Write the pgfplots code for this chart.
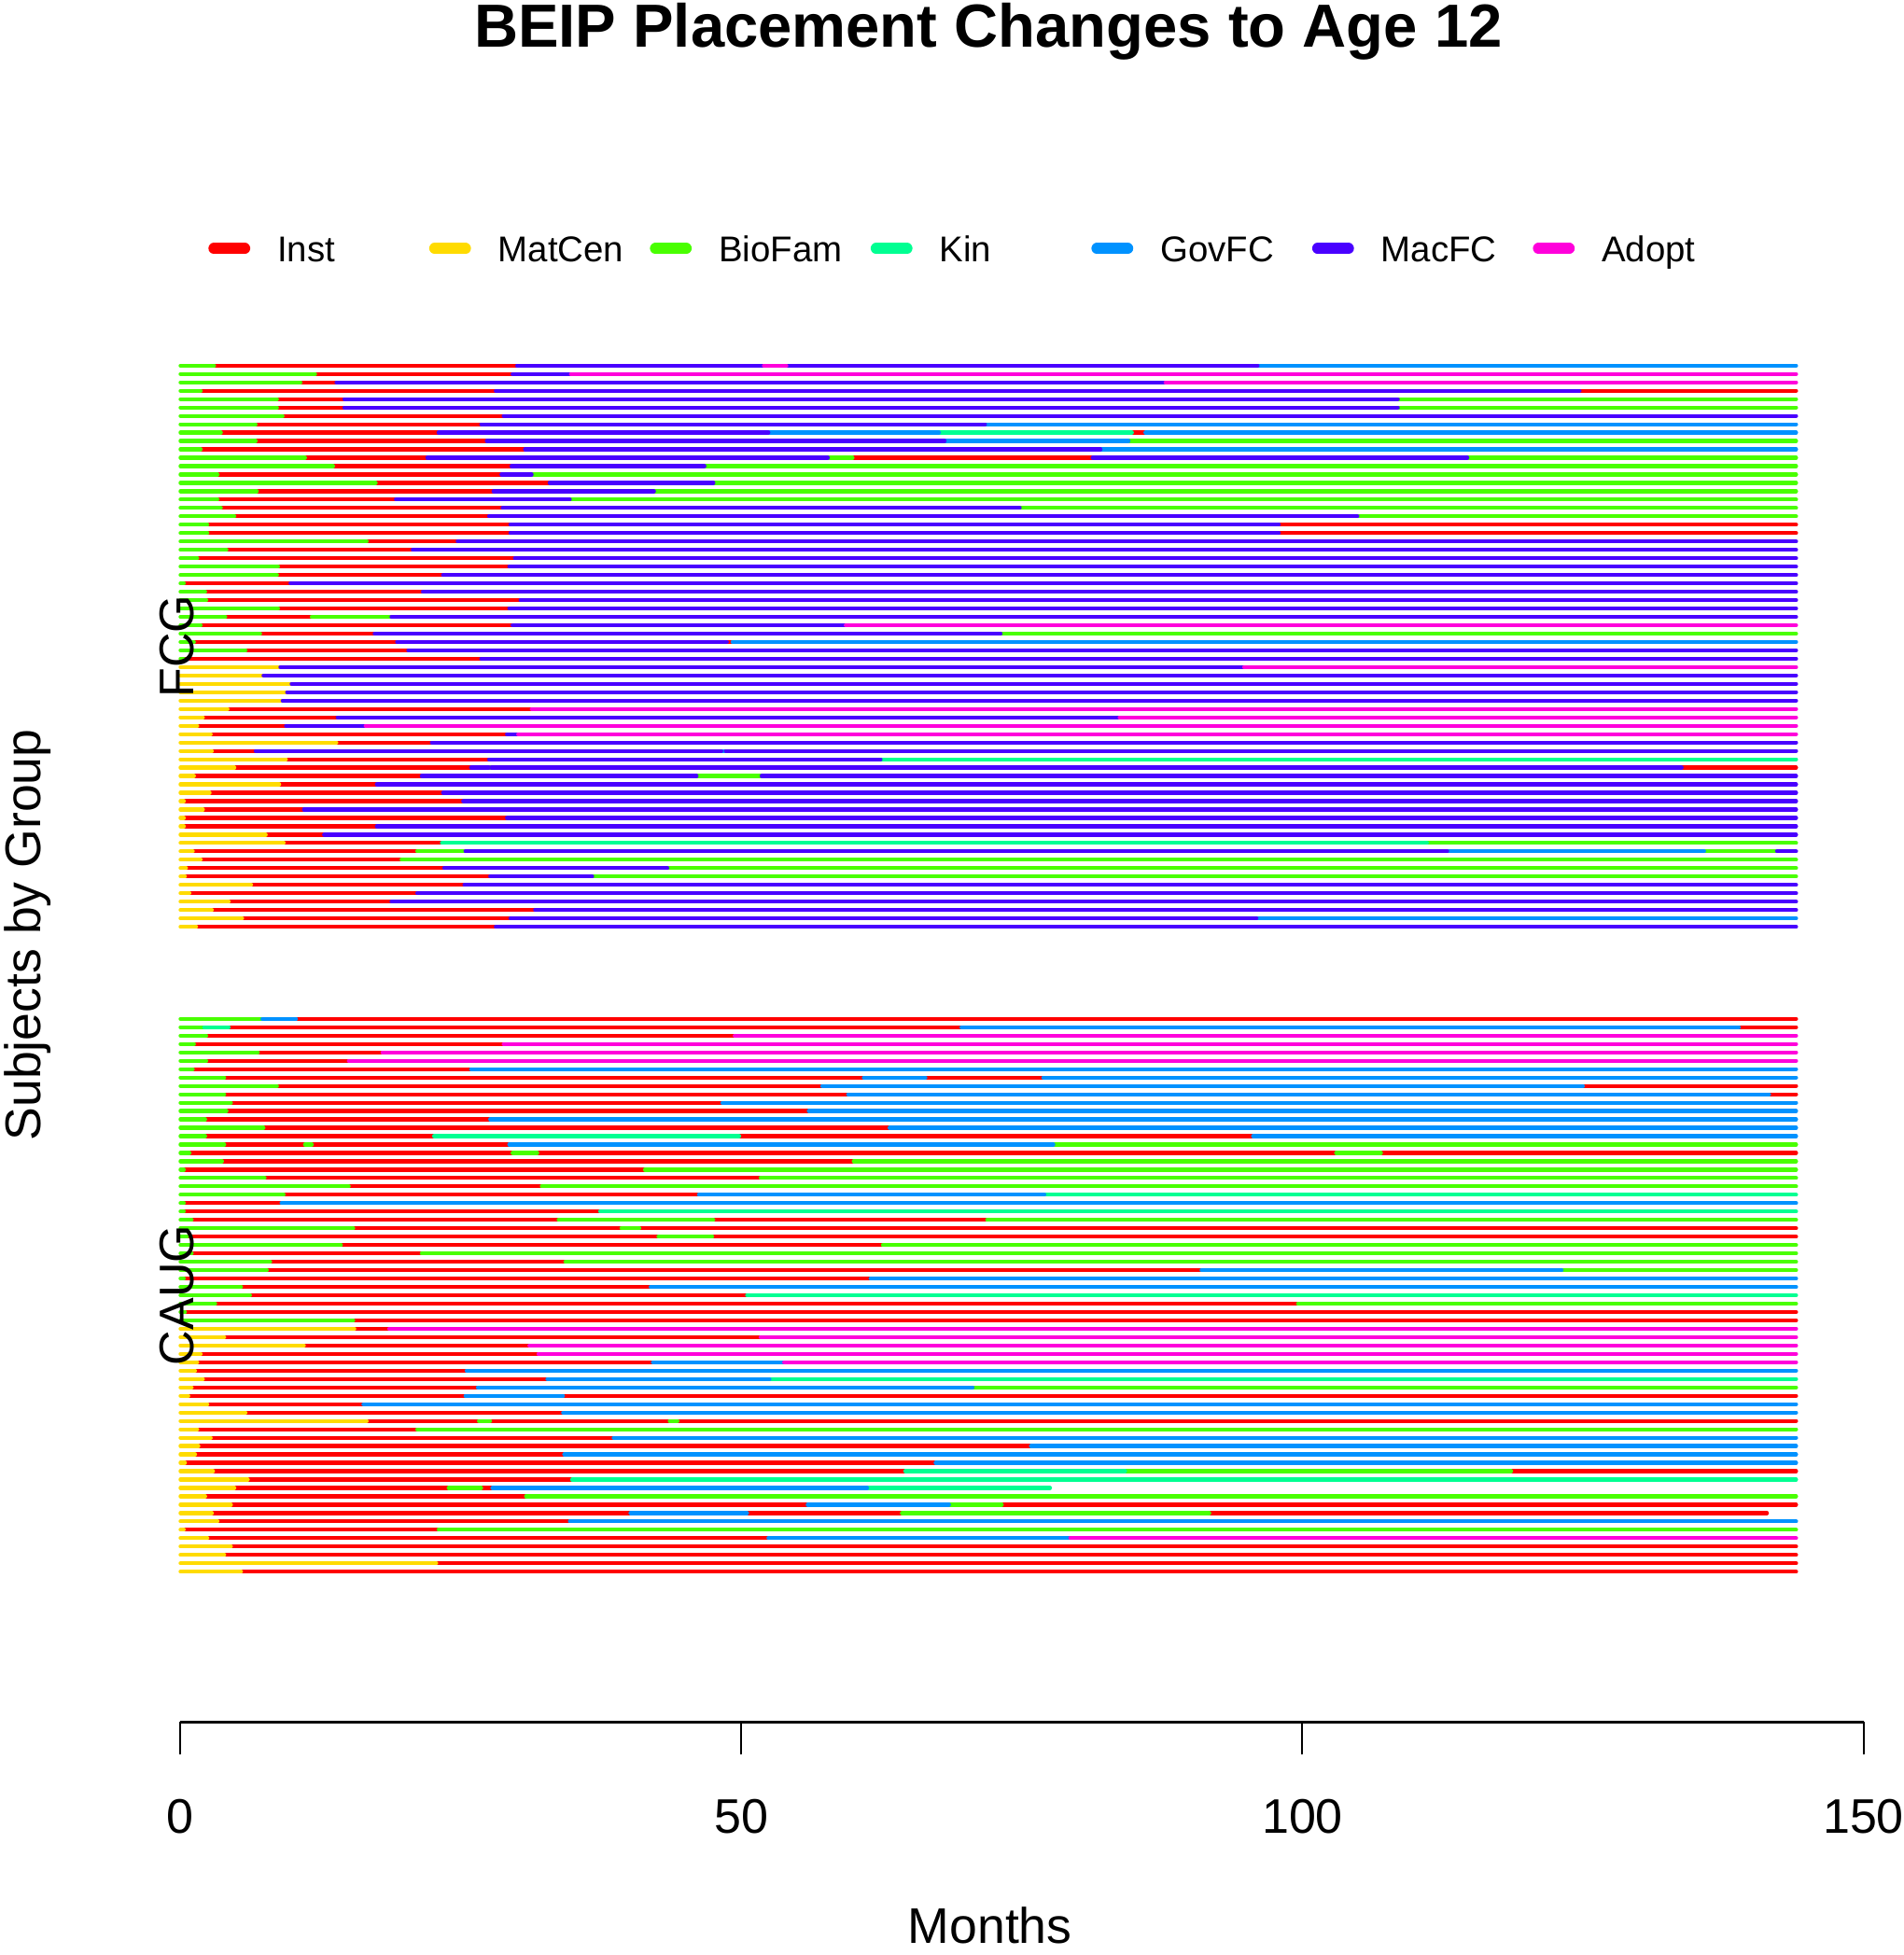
\documentclass[border=0pt]{standalone}
\usepackage{fontspec}
\setmainfont{Liberation Sans}
\usepackage{pgfplots}
\usepackage{pgfplotstable}
\pgfplotsset{compat=1.18}

% rainbow(7): Inst, MatCen, BioFam, Kin, GovFC, MacFC, Adopt
\definecolor{c1}{HTML}{FF0000}
\definecolor{c2}{HTML}{FFDB00}
\definecolor{c3}{HTML}{49FF00}
\definecolor{c4}{HTML}{00FF92}
\definecolor{c5}{HTML}{0092FF}
\definecolor{c6}{HTML}{4900FF}
\definecolor{c7}{HTML}{FF00DB}

% placement spells: row y, start month, end month, placement type
\pgfplotstableread[row sep=\\]{
y x0 x1 c\\
145 0 3 3\\ 145 3 30 1\\ 145 30 52 6\\ 145 52 54 7\\ 145 54 96 6\\ 145 96 144 5\\
144 0 12 3\\ 144 12 29.6 1\\ 144 29.6 34.8 6\\ 144 34.8 144 7\\
143 0 10.7 3\\ 143 10.7 13.9 1\\ 143 13.9 87.8 6\\ 143 87.8 144 7\\
142 0 1.8 3\\ 142 1.8 28.1 1\\ 142 28.1 124.7 6\\ 142 124.7 144 1\\
141 0 8.6 3\\ 141 8.6 14.6 1\\ 141 14.6 108.5 6\\ 141 108.5 144 3\\
140 0 8.6 3\\ 140 8.6 14.6 1\\ 140 14.6 108.5 6\\ 140 108.5 144 3\\
139 0 9.1 3\\ 139 9.1 28.8 1\\ 139 28.8 144 6\\
138 0 6.7 3\\ 138 6.7 26.8 1\\ 138 26.8 71.7 6\\ 138 71.7 144 5\\
137 0 3.6 3\\ 137 3.6 23 1\\ 137 23 52.4 6\\ 137 52.4 67.6 5\\ 137 67.6 84.8 4\\ 137 84.8 86 1\\ 137 86 144 5\\
136 0 6.7 3\\ 136 6.7 27.3 1\\ 136 27.3 68.1 6\\ 136 68.1 84.5 5\\ 136 84.5 144 3\\
135 0 1.8 3\\ 135 1.8 30.7 1\\ 135 30.7 82 6\\ 135 82 144 5\\
134 0 11.1 3\\ 134 11.1 22 1\\ 134 22 57.7 6\\ 134 57.7 59.9 3\\ 134 59.9 81.3 1\\ 134 81.3 114.7 6\\ 134 114.7 144 3\\
133 0 13.6 3\\ 133 13.6 29.5 1\\ 133 29.5 46.7 6\\ 133 46.7 144 3\\
132 0 3.3 3\\ 132 3.3 28.6 1\\ 132 28.6 31.3 6\\ 132 31.3 144 3\\
131 0 17.4 3\\ 131 17.4 32.9 1\\ 131 32.9 47.5 6\\ 131 47.5 144 3\\
130 0 6.8 3\\ 130 6.8 27.9 1\\ 130 27.9 42.2 6\\ 130 42.2 144 3\\
129 0 3.3 3\\ 129 3.3 19.2 1\\ 129 19.2 34.7 6\\ 129 34.7 144 3\\
128 0 3.6 3\\ 128 3.6 28.7 1\\ 128 28.7 74.8 6\\ 128 74.8 144 3\\
127 0 4.8 3\\ 127 4.8 27.5 1\\ 127 27.5 104.9 6\\ 127 104.9 144 3\\
126 0 2.4 3\\ 126 2.4 29.4 1\\ 126 29.4 97.9 6\\ 126 97.9 144 1\\
125 0 2.4 3\\ 125 2.4 29.4 1\\ 125 29.4 97.9 6\\ 125 97.9 144 1\\
124 0 16.6 3\\ 124 16.6 24.7 1\\ 124 24.7 144 6\\
123 0 4.1 3\\ 123 4.1 20.7 1\\ 123 20.7 144 6\\
122 0 1.5 3\\ 122 1.5 29.8 1\\ 122 29.8 144 6\\
121 0 8.7 3\\ 121 8.7 29.3 1\\ 121 29.3 144 6\\
120 0 8.6 3\\ 120 8.6 23.4 1\\ 120 23.4 144 6\\
119 0 0.3 3\\ 119 0.3 9.8 1\\ 119 9.8 144 6\\
118 0 2.2 3\\ 118 2.2 21.6 1\\ 118 21.6 144 6\\
117 0 2.3 3\\ 117 2.3 30.3 1\\ 117 30.3 144 6\\
116 0 8.7 3\\ 116 8.7 29.3 1\\ 116 29.3 144 6\\
115 0 4 3\\ 115 4 11.7 1\\ 115 11.7 18.8 3\\ 115 18.8 144 6\\
114 0 1.8 3\\ 114 1.8 29.6 1\\ 114 29.6 59.3 6\\ 114 59.3 144 7\\
113 0 7.1 3\\ 113 7.1 17.3 1\\ 113 17.3 73.1 6\\ 113 73.1 144 3\\
112 0 1.2 3\\ 112 1.2 19.3 1\\ 112 19.3 48.7 6\\ 112 48.7 49.2 1\\ 112 49.2 144 5\\
111 0 5.8 3\\ 111 5.8 20.3 1\\ 111 20.3 144 6\\
110 0 0.3 3\\ 110 0.3 26.8 1\\ 110 26.8 144 6\\
109 0 8.9 2\\ 109 8.9 94.8 6\\ 109 94.8 144 7\\
108 0 7.4 2\\ 108 7.4 144 6\\
107 0 9.9 2\\ 107 9.9 144 6\\
106 0 9.5 2\\ 106 9.5 144 6\\
105 0 9.1 2\\ 105 9.1 144 6\\
104 0 4.2 2\\ 104 4.2 31.3 1\\ 104 31.3 144 7\\
103 0 2 2\\ 103 2 14 1\\ 103 14 83.7 6\\ 103 83.7 144 7\\
102 0 1.5 2\\ 102 1.5 9.4 1\\ 102 9.4 16.5 6\\ 102 16.5 144 7\\
101 0 2.7 2\\ 101 2.7 29.1 1\\ 101 29.1 30.1 6\\ 101 30.1 144 7\\
100 0 13.9 2\\ 100 13.9 22.4 1\\ 100 22.4 144 6\\
99 0 2.8 2\\ 99 2.8 6.7 1\\ 99 6.7 48.2 6\\ 99 48.2 48.6 5\\ 99 48.6 144 6\\
98 0 9.4 2\\ 98 9.4 27.5 1\\ 98 27.5 62.4 6\\ 98 62.4 144 4\\
97 0 4.8 2\\ 97 4.8 25.9 1\\ 97 25.9 27.5 6\\ 97 27.5 27.7 3\\ 97 27.7 133.8 6\\ 97 133.8 144 1\\
96 0 1.2 2\\ 96 1.2 21.5 1\\ 96 21.5 46 6\\ 96 46 51.8 3\\ 96 51.8 144 6\\
95 0 8.8 2\\ 95 8.8 17.5 1\\ 95 17.5 144 6\\
94 0 2.6 2\\ 94 2.6 23.4 1\\ 94 23.4 144 6\\
93 0 0.3 2\\ 93 0.3 25.2 1\\ 93 25.2 144 6\\
92 0 2 2\\ 92 2 11 1\\ 92 11 144 6\\
91 0 0.3 2\\ 91 0.3 29.1 1\\ 91 29.1 144 6\\
90 0 0.3 2\\ 90 0.3 17.5 1\\ 90 17.5 144 6\\
89 0 7.6 2\\ 89 7.6 12.8 1\\ 89 12.8 144 6\\
88 0 9.2 2\\ 88 9.2 23.3 1\\ 88 23.3 111.1 4\\ 88 111.1 144 3\\
87 0 1.1 2\\ 87 1.1 21.1 1\\ 87 21.1 25.4 3\\ 87 25.4 112.9 6\\ 87 112.9 135.8 5\\ 87 135.8 142.3 3\\ 87 142.3 144 6\\
86 0 1.8 2\\ 86 1.8 19.7 1\\ 86 19.7 144 3\\
85 0 0.5 2\\ 85 0.5 23.5 1\\ 85 23.5 43.4 6\\ 85 43.4 144 3\\
84 0 0.4 2\\ 84 0.4 27.6 1\\ 84 27.6 36.7 6\\ 84 36.7 144 3\\
83 0 6.3 2\\ 83 6.3 25.3 1\\ 83 25.3 144 6\\
82 0 0.8 2\\ 82 0.8 21.1 1\\ 82 21.1 144 6\\
81 0 4.3 2\\ 81 4.3 18.8 1\\ 81 18.8 144 6\\
80 0 2.8 2\\ 80 2.8 31.6 1\\ 80 31.6 144 6\\
79 0 5.5 2\\ 79 5.5 29.4 1\\ 79 29.4 95.9 6\\ 79 95.9 144 5\\
78 0 1.4 2\\ 78 1.4 28.1 1\\ 78 28.1 144 6\\
}\fcg

\pgfplotstableread[row sep=\\]{
y x0 x1 c\\
67 0 7.3 3\\ 67 7.3 10.3 5\\ 67 10.3 144 1\\
66 0 2.1 3\\ 66 2.1 4.3 4\\ 66 4.3 69.6 1\\ 66 69.6 138.9 5\\ 66 138.9 144 1\\
65 0 2.3 3\\ 65 2.3 49.4 1\\ 65 49.4 144 7\\
64 0 1.2 3\\ 64 1.2 28.8 1\\ 64 28.8 144 7\\
63 0 6.9 3\\ 63 6.9 18 1\\ 63 18 144 7\\
62 0 2.3 3\\ 62 2.3 15 1\\ 62 15 144 7\\
61 0 1.1 3\\ 61 1.1 25.9 1\\ 61 25.9 144 5\\
60 0 3.9 3\\ 60 3.9 60.9 1\\ 60 60.9 66.4 5\\ 60 66.4 76.9 1\\ 60 76.9 144 5\\
59 0 8.6 3\\ 59 8.6 57.2 1\\ 59 57.2 125 5\\ 59 125 144 1\\
58 0 3.9 3\\ 58 3.9 59.5 1\\ 58 59.5 141.6 5\\ 58 141.6 144 1\\
57 0 4.5 3\\ 57 4.5 48.3 1\\ 57 48.3 144 5\\
56 0 4.1 3\\ 56 4.1 56 1\\ 56 56 144 5\\
55 0 2.2 3\\ 55 2.2 27.6 1\\ 55 27.6 144 5\\
54 0 7.4 3\\ 54 7.4 63.2 1\\ 54 63.2 144 5\\
53 0 2.2 3\\ 53 2.2 22.6 1\\ 53 22.6 49.8 4\\ 53 49.8 95.6 1\\ 53 95.6 144 5\\
52 0 3.9 3\\ 52 3.9 11.1 1\\ 52 11.1 11.7 3\\ 52 11.7 29.3 1\\ 52 29.3 77.8 5\\ 52 77.8 144 3\\
51 0 0.8 3\\ 51 0.8 29.6 1\\ 51 29.6 31.8 3\\ 51 31.8 103 1\\ 51 103 107 3\\ 51 107 144 1\\
50 0 3.7 3\\ 50 3.7 60 1\\ 50 60 144 3\\
49 0 0.3 3\\ 49 0.3 41.4 1\\ 49 41.4 144 3\\
48 0 7.5 3\\ 48 7.5 51.7 1\\ 48 51.7 144 3\\
47 0 15 3\\ 47 15 32.2 1\\ 47 32.2 144 3\\
46 0 9.2 3\\ 46 9.2 46.2 1\\ 46 46.2 77 5\\ 46 77 144 4\\
45 0 0.3 3\\ 45 0.3 9 1\\ 45 9 144 5\\
44 0 0.3 3\\ 44 0.3 37.4 1\\ 44 37.4 144 4\\
43 0 1 3\\ 43 1 33.7 1\\ 43 33.7 47.5 3\\ 43 47.5 71.9 1\\ 43 71.9 144 3\\
42 0 15.4 3\\ 42 15.4 39.3 1\\ 42 39.3 40.9 3\\ 42 40.9 144 1\\
41 0 0.6 3\\ 41 0.6 42.6 1\\ 41 42.6 47.4 3\\ 41 47.4 144 1\\
40 0 14.3 3\\ 40 14.3 62.6 1\\ 40 62.6 144 3\\
39 0 1 3\\ 39 1 21.5 1\\ 39 21.5 144 3\\
38 0 8 3\\ 38 8 34.3 1\\ 38 34.3 144 3\\
37 0 7.7 3\\ 37 7.7 91 1\\ 37 91 123.1 5\\ 37 123.1 144 3\\
36 0 0.3 3\\ 36 0.3 61.5 1\\ 36 61.5 144 5\\
35 0 5.4 3\\ 35 5.4 41.9 1\\ 35 41.9 144 5\\
34 0 6.2 3\\ 34 6.2 50.5 1\\ 34 50.5 144 4\\
33 0 3.1 3\\ 33 3.1 99.6 1\\ 33 99.6 144 3\\
32 0 0.4 3\\ 32 0.4 144 1\\
31 0 15.4 3\\ 31 15.4 144 1\\
30 0 15.5 2\\ 30 15.5 18.6 1\\ 30 18.6 144 7\\
29 0 3.9 2\\ 29 3.9 51.7 1\\ 29 51.7 144 7\\
28 0 11 2\\ 28 11 31.1 1\\ 28 31.1 144 7\\
27 0 1.8 2\\ 27 1.8 31.9 1\\ 27 31.9 144 7\\
26 0 1.5 2\\ 26 1.5 42.1 1\\ 26 42.1 53.8 5\\ 26 53.8 144 7\\
25 0 1.3 2\\ 25 1.3 25.5 1\\ 25 25.5 144 5\\
24 0 2 2\\ 24 2 32.7 1\\ 24 32.7 52.5 5\\ 24 52.5 144 4\\
23 0 1 2\\ 23 1 26.5 1\\ 23 26.5 70.6 5\\ 23 70.6 144 3\\
22 0 0.7 2\\ 22 0.7 25.4 1\\ 22 25.4 34.1 5\\ 22 34.1 144 1\\
21 0 2.4 2\\ 21 2.4 16.3 1\\ 21 16.3 144 5\\
20 0 5.8 2\\ 20 5.8 34.1 1\\ 20 34.1 144 5\\
19 0 16.6 2\\ 19 16.6 26.6 1\\ 19 26.6 27.6 3\\ 19 27.6 43.6 1\\ 19 43.6 44.3 3\\ 19 44.3 144 1\\
18 0 1.5 2\\ 18 1.5 21.1 1\\ 18 21.1 144 3\\
17 0 2.7 2\\ 17 2.7 38.6 1\\ 17 38.6 144 5\\
16 0 1.6 2\\ 16 1.6 75.8 1\\ 16 75.8 144 5\\
15 0 1.3 2\\ 15 1.3 34.2 1\\ 15 34.2 144 5\\
14 0 0.4 2\\ 14 0.4 67.3 1\\ 14 67.3 144 5\\
13 0 2.9 2\\ 13 2.9 64.6 1\\ 13 64.6 84.2 4\\ 13 84.2 118.6 3\\ 13 118.6 144 1\\
12 0 6 2\\ 12 6 34.9 1\\ 12 34.9 144 4\\
11 0 4.8 2\\ 11 4.8 23.9 1\\ 11 23.9 26.8 3\\ 11 26.8 27.8 1\\ 11 27.8 61.2 5\\ 11 61.2 77.5 4\\
10 0 2.2 2\\ 10 2.2 30.8 1\\ 10 30.8 144 3\\
9 0 4.5 2\\ 9 4.5 55.9 1\\ 9 55.9 68.5 5\\ 9 68.5 73.2 3\\ 9 73.2 144 1\\
8 0 2.8 2\\ 8 2.8 40.1 1\\ 8 40.1 50.5 5\\ 8 50.5 64.3 1\\ 8 64.3 91.7 3\\ 8 91.7 141.4 1\\
7 0 3.3 2\\ 7 3.3 34.7 1\\ 7 34.7 144 5\\
6 0 0.3 2\\ 6 0.3 23 1\\ 6 23 144 3\\
5 0 2.4 2\\ 5 2.4 52.4 1\\ 5 52.4 79.3 5\\ 5 79.3 144 7\\
4 0 4.5 2\\ 4 4.5 144 1\\
3 0 3.9 2\\ 3 3.9 144 1\\
2 0 22.8 2\\ 2 22.8 144 1\\
1 0 5.4 2\\ 1 5.4 144 1\\
}\caug

\newcommand\lgtext[1]{\makebox[40.66pt][l]{#1}}

\begin{document}
\begin{tikzpicture}
\begin{axis}[
  x=3.0055pt, y=2.244pt,
  xmin=0, xmax=150, ymin=-16.96, ymax=146,
  clip=false,
  axis x line*=bottom, axis y line*=left,
  x axis line style={-, line width=0.7pt},
  y axis line style={draw=none},
  ytick=\empty,
  xtick={0,50,100,150},
  tick align=outside, major tick length=8.75pt,
  xtick style={line width=0.5pt, black},
  /pgf/number format/assume math mode=true,
  xticklabel style={font=\fontsize{13}{13}\selectfont, anchor=base, yshift=-21pt},
  title={BEIP Placement Changes to Age 12},
  title style={font=\fontsize{16.3}{18}\selectfont\bfseries,
    at={(axis description cs:0.48,1.2106)}, anchor=base},
  xlabel={Months},
  xlabel style={font=\fontsize{13.4}{14}\selectfont,
    at={(axis description cs:0.481,0)}, anchor=base, yshift=-59.2pt},
  ylabel={Subjects by Group},
  ylabel style={font=\fontsize{13.4}{14}\selectfont,
    at={(axis description cs:-0.083,0.5767)}, anchor=base},
  legend columns=7,
  legend entries={\lgtext{Inst},\lgtext{MatCen},\lgtext{BioFam},\lgtext{Kin},
                  \lgtext{GovFC},\lgtext{MacFC},\lgtext{Adopt}},
  legend style={draw=none, fill=none, inner sep=0pt, outer sep=0pt,
    column sep=0pt, font=\fontsize{9.6}{10}\selectfont,
    at={(axis description cs:0.0166,1.0768)}, anchor=west,
    cells={anchor=base west},
    nodes={inner sep=0pt, text height=0.75em, text depth=0.25em}},
  seg/.style={line width=1.05pt, line cap=round,
    quiver={u=\thisrow{x1}-\thisrow{x0}, v=0},
    legend image code/.code={
      \draw[line width=2.9pt] (0pt,3.55pt) -- (8.3pt,3.55pt);
      \path (0pt,0pt) (16.5pt,0pt);}},
]
\pgfplotsinvokeforeach{1,2,3,4,5,6,7}{
  \addplot[seg, draw=c#1, restrict expr to domain={\thisrow{c}}{#1:#1}]
    table[x=x0, y=y] {\fcg};
}
\pgfplotsinvokeforeach{1,2,3,4,5,6,7}{
  \addplot[seg, draw=c#1, forget plot, restrict expr to domain={\thisrow{c}}{#1:#1}]
    table[x=x0, y=y] {\caug};
}
\end{axis}
% group names over the left end of the rows
\node[rotate=90, anchor=base, font=\fontsize{13}{13}\selectfont] at (3.65pt,288.25pt) {FCG};
\node[rotate=90, anchor=base, font=\fontsize{13}{13}\selectfont] at (3.65pt,114.35pt) {CAUG};
\pgfresetboundingbox
\path[use as bounding box] (-48.35pt,-62.4pt) rectangle (461.65pt,461.4pt);
\end{tikzpicture}
\end{document}
